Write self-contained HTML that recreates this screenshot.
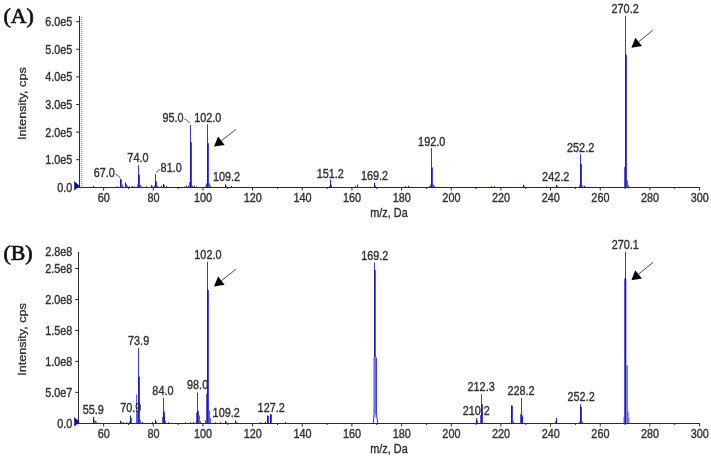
<!DOCTYPE html>
<html><head><meta charset="utf-8"><title>MS/MS spectra</title>
<style>
html,body{margin:0;padding:0;background:#fff;}
svg{display:block;}
.t,.r{font-family:"Liberation Sans",Arial,sans-serif;font-size:12.0px;fill:#303030;stroke:#303030;stroke-width:0.36px;}
.r{font-size:12.6px;}
.p{font-family:"Liberation Serif","Times New Roman",serif;font-weight:normal;font-size:21.5px;fill:#111;stroke:#111;stroke-width:0.7px;}
</style></head><body>
<svg width="711" height="459" viewBox="0 0 711 459">
<rect width="711" height="459" fill="#fff"/>
<g id="panelA">
<rect x="79.00" y="16.00" width="1.00" height="172.00" fill="#2b2b2b"/><line x1="81.8" y1="17" x2="81.8" y2="187.0" stroke="#777" stroke-width="1" stroke-dasharray="1,1"/><rect x="76.00" y="187.00" width="624.05" height="1.00" fill="#2b2b2b"/><rect x="103.13" y="187.00" width="1.00" height="3.50" fill="#2b2b2b"/><text transform="translate(103.8,202.0) scale(0.905,1)" text-anchor="middle" class="t">60</text><rect x="127.96" y="187.00" width="1.00" height="2.00" fill="#2b2b2b"/><rect x="152.79" y="187.00" width="1.00" height="3.50" fill="#2b2b2b"/><text transform="translate(153.5,202.0) scale(0.905,1)" text-anchor="middle" class="t">80</text><rect x="177.62" y="187.00" width="1.00" height="2.00" fill="#2b2b2b"/><rect x="202.45" y="187.00" width="1.00" height="3.50" fill="#2b2b2b"/><text transform="translate(203.1,202.0) scale(0.905,1)" text-anchor="middle" class="t">100</text><rect x="227.28" y="187.00" width="1.00" height="2.00" fill="#2b2b2b"/><rect x="252.11" y="187.00" width="1.00" height="3.50" fill="#2b2b2b"/><text transform="translate(252.8,202.0) scale(0.905,1)" text-anchor="middle" class="t">120</text><rect x="276.94" y="187.00" width="1.00" height="2.00" fill="#2b2b2b"/><rect x="301.77" y="187.00" width="1.00" height="3.50" fill="#2b2b2b"/><text transform="translate(302.5,202.0) scale(0.905,1)" text-anchor="middle" class="t">140</text><rect x="326.60" y="187.00" width="1.00" height="2.00" fill="#2b2b2b"/><rect x="351.43" y="187.00" width="1.00" height="3.50" fill="#2b2b2b"/><text transform="translate(352.1,202.0) scale(0.905,1)" text-anchor="middle" class="t">160</text><rect x="376.26" y="187.00" width="1.00" height="2.00" fill="#2b2b2b"/><rect x="401.09" y="187.00" width="1.00" height="3.50" fill="#2b2b2b"/><text transform="translate(401.8,202.0) scale(0.905,1)" text-anchor="middle" class="t">180</text><rect x="425.92" y="187.00" width="1.00" height="2.00" fill="#2b2b2b"/><rect x="450.75" y="187.00" width="1.00" height="3.50" fill="#2b2b2b"/><text transform="translate(451.4,202.0) scale(0.905,1)" text-anchor="middle" class="t">200</text><rect x="475.58" y="187.00" width="1.00" height="2.00" fill="#2b2b2b"/><rect x="500.41" y="187.00" width="1.00" height="3.50" fill="#2b2b2b"/><text transform="translate(501.1,202.0) scale(0.905,1)" text-anchor="middle" class="t">220</text><rect x="525.24" y="187.00" width="1.00" height="2.00" fill="#2b2b2b"/><rect x="550.07" y="187.00" width="1.00" height="3.50" fill="#2b2b2b"/><text transform="translate(550.8,202.0) scale(0.905,1)" text-anchor="middle" class="t">240</text><rect x="574.90" y="187.00" width="1.00" height="2.00" fill="#2b2b2b"/><rect x="599.73" y="187.00" width="1.00" height="3.50" fill="#2b2b2b"/><text transform="translate(600.4,202.0) scale(0.905,1)" text-anchor="middle" class="t">260</text><rect x="624.56" y="187.00" width="1.00" height="2.00" fill="#2b2b2b"/><rect x="649.39" y="187.00" width="1.00" height="3.50" fill="#2b2b2b"/><text transform="translate(650.1,202.0) scale(0.905,1)" text-anchor="middle" class="t">280</text><rect x="674.22" y="187.00" width="1.00" height="2.00" fill="#2b2b2b"/><rect x="699.05" y="187.00" width="1.00" height="3.50" fill="#2b2b2b"/><text transform="translate(699.8,202.0) scale(0.905,1)" text-anchor="middle" class="t">300</text><rect x="76.20" y="186.80" width="3.30" height="1.00" fill="#2b2b2b"/><text transform="translate(72.4,191.7) scale(0.905,1)" text-anchor="end" class="t">0.0</text><rect x="76.20" y="159.20" width="3.30" height="1.00" fill="#2b2b2b"/><text transform="translate(72.4,164.1) scale(0.905,1)" text-anchor="end" class="t">1.0e5</text><rect x="76.20" y="131.60" width="3.30" height="1.00" fill="#2b2b2b"/><text transform="translate(72.4,136.5) scale(0.905,1)" text-anchor="end" class="t">2.0e5</text><rect x="76.20" y="104.00" width="3.30" height="1.00" fill="#2b2b2b"/><text transform="translate(72.4,108.9) scale(0.905,1)" text-anchor="end" class="t">3.0e5</text><rect x="76.20" y="76.40" width="3.30" height="1.00" fill="#2b2b2b"/><text transform="translate(72.4,81.3) scale(0.905,1)" text-anchor="end" class="t">4.0e5</text><rect x="76.20" y="48.80" width="3.30" height="1.00" fill="#2b2b2b"/><text transform="translate(72.4,53.7) scale(0.905,1)" text-anchor="end" class="t">5.0e5</text><rect x="76.20" y="21.20" width="3.30" height="1.00" fill="#2b2b2b"/><text transform="translate(72.4,26.1) scale(0.905,1)" text-anchor="end" class="t">6.0e5</text><polygon points="74.2,181.0 79.6,186.0 74.2,190.6" fill="#0a0ab8"/><text transform="translate(25.8,103.6) rotate(-90) scale(1,0.86)" text-anchor="middle" class="r">Intensity, cps</text><text transform="translate(389.0,216.6) scale(0.905,1)" text-anchor="middle" class="t">m/z, Da</text>
<rect x="93.00" y="185.78" width="1.00" height="1.22" fill="#1515d4"/>
<rect x="117.00" y="186.47" width="1.00" height="0.53" fill="#1515d4"/>
<rect x="120.00" y="179.02" width="1.00" height="7.98" fill="#1515d4"/><rect x="121.00" y="179.40" width="1.00" height="7.60" fill="#1515d4" opacity="0.7"/><rect x="122.00" y="184.50" width="1.00" height="2.50" fill="#1515d4" opacity="0.7"/>
<rect x="125.00" y="182.33" width="1.00" height="4.67" fill="#1515d4"/><rect x="126.00" y="184.00" width="1.00" height="3.00" fill="#1515d4" opacity="0.7"/><rect x="127.00" y="185.50" width="1.00" height="1.50" fill="#1515d4" opacity="0.7"/>
<rect x="129.00" y="186.20" width="1.00" height="0.80" fill="#1515d4"/>
<rect x="132.00" y="185.92" width="1.00" height="1.08" fill="#1515d4"/>
<rect x="134.00" y="186.47" width="1.00" height="0.53" fill="#1515d4"/>
<rect x="138.00" y="165.36" width="1.00" height="21.64" fill="#3838dc"/><rect x="138.00" y="174.66" width="1.00" height="12.34" fill="#1515d4"/><rect x="139.00" y="174.66" width="1.00" height="12.34" fill="#1515d4" opacity="0.8"/><rect x="137.00" y="184.50" width="1.00" height="2.50" fill="#1515d4" opacity="0.7"/><rect x="140.00" y="185.00" width="1.00" height="2.00" fill="#1515d4" opacity="0.7"/>
<rect x="141.00" y="186.47" width="1.00" height="0.53" fill="#1515d4"/>
<rect x="146.00" y="186.47" width="1.00" height="0.53" fill="#1515d4"/>
<rect x="151.00" y="185.09" width="1.00" height="1.91" fill="#1515d4"/><rect x="152.00" y="185.80" width="1.00" height="1.20" fill="#1515d4" opacity="0.7"/>
<rect x="155.00" y="174.05" width="1.00" height="12.95" fill="#3838dc"/><rect x="155.00" y="181.17" width="1.00" height="5.83" fill="#1515d4"/><rect x="156.00" y="181.17" width="1.00" height="5.83" fill="#1515d4" opacity="0.8"/><rect x="154.00" y="185.50" width="1.00" height="1.50" fill="#1515d4" opacity="0.7"/><rect x="157.00" y="185.50" width="1.00" height="1.50" fill="#1515d4" opacity="0.7"/>
<rect x="161.00" y="185.64" width="1.00" height="1.36" fill="#1515d4"/>
<rect x="163.00" y="183.99" width="1.00" height="3.01" fill="#1515d4"/><rect x="164.00" y="185.00" width="1.00" height="2.00" fill="#1515d4" opacity="0.7"/>
<rect x="166.00" y="186.20" width="1.00" height="0.80" fill="#1515d4"/>
<rect x="184.00" y="186.47" width="1.00" height="0.53" fill="#1515d4"/>
<rect x="186.00" y="185.64" width="1.00" height="1.36" fill="#1515d4"/>
<rect x="190.00" y="124.92" width="1.00" height="62.08" fill="#3838dc"/><rect x="190.00" y="142.31" width="1.00" height="44.69" fill="#1515d4"/><rect x="191.00" y="142.31" width="1.00" height="44.69" fill="#1515d4" opacity="0.8"/><rect x="189.00" y="182.00" width="1.00" height="5.00" fill="#1515d4" opacity="0.7"/><rect x="188.00" y="185.50" width="1.00" height="1.50" fill="#1515d4" opacity="0.7"/><rect x="192.00" y="185.50" width="1.00" height="1.50" fill="#1515d4" opacity="0.7"/>
<rect x="194.00" y="185.92" width="1.00" height="1.08" fill="#1515d4"/>
<rect x="196.00" y="186.47" width="1.00" height="0.53" fill="#1515d4"/>
<rect x="207.00" y="124.37" width="1.00" height="62.63" fill="#3838dc"/><rect x="207.00" y="143.16" width="1.00" height="43.84" fill="#1515d4"/><rect x="208.00" y="143.16" width="1.00" height="43.84" fill="#1515d4" opacity="0.8"/><rect x="206.00" y="183.50" width="1.00" height="3.50" fill="#1515d4" opacity="0.7"/><rect x="205.00" y="185.50" width="1.00" height="1.50" fill="#1515d4" opacity="0.7"/><rect x="209.00" y="183.50" width="1.00" height="3.50" fill="#1515d4" opacity="0.7"/><rect x="210.00" y="185.50" width="1.00" height="1.50" fill="#1515d4" opacity="0.7"/>
<rect x="225.00" y="184.26" width="1.00" height="2.74" fill="#1515d4"/><rect x="226.00" y="185.80" width="1.00" height="1.20" fill="#1515d4" opacity="0.7"/>
<rect x="231.00" y="185.92" width="1.00" height="1.08" fill="#1515d4"/>
<rect x="330.00" y="179.57" width="1.00" height="7.43" fill="#1515d4"/><rect x="331.00" y="185.00" width="1.00" height="2.00" fill="#1515d4" opacity="0.7"/><rect x="329.00" y="185.80" width="1.00" height="1.20" fill="#1515d4" opacity="0.7"/>
<rect x="355.00" y="186.20" width="1.00" height="0.80" fill="#1515d4"/>
<rect x="357.00" y="184.54" width="1.00" height="2.46" fill="#1515d4"/>
<rect x="374.00" y="182.88" width="1.00" height="4.12" fill="#1515d4"/><rect x="375.00" y="185.50" width="1.00" height="1.50" fill="#1515d4" opacity="0.7"/>
<rect x="405.00" y="186.20" width="1.00" height="0.80" fill="#1515d4"/>
<rect x="408.00" y="185.92" width="1.00" height="1.08" fill="#1515d4"/>
<rect x="431.00" y="147.97" width="1.00" height="39.03" fill="#3838dc"/><rect x="431.00" y="167.49" width="1.00" height="19.51" fill="#1515d4"/><rect x="432.00" y="167.49" width="1.00" height="19.51" fill="#1515d4" opacity="0.8"/><rect x="430.00" y="184.50" width="1.00" height="2.50" fill="#1515d4" opacity="0.7"/><rect x="429.00" y="185.80" width="1.00" height="1.20" fill="#1515d4" opacity="0.7"/><rect x="433.00" y="184.50" width="1.00" height="2.50" fill="#1515d4" opacity="0.7"/><rect x="434.00" y="185.80" width="1.00" height="1.20" fill="#1515d4" opacity="0.7"/>
<rect x="491.00" y="186.20" width="1.00" height="0.80" fill="#1515d4"/>
<rect x="494.00" y="186.20" width="1.00" height="0.80" fill="#1515d4"/>
<rect x="523.00" y="184.82" width="1.00" height="2.18" fill="#1515d4"/><rect x="524.00" y="185.80" width="1.00" height="1.20" fill="#1515d4" opacity="0.7"/>
<rect x="546.00" y="186.47" width="1.00" height="0.53" fill="#1515d4"/>
<rect x="556.00" y="184.82" width="1.00" height="2.18" fill="#1515d4"/><rect x="557.00" y="186.00" width="1.00" height="1.00" fill="#1515d4" opacity="0.7"/>
<rect x="580.00" y="154.18" width="1.00" height="32.82" fill="#3838dc"/><rect x="580.00" y="164.03" width="1.00" height="22.97" fill="#1515d4"/><rect x="581.00" y="164.03" width="1.00" height="22.97" fill="#1515d4" opacity="0.8"/><rect x="579.00" y="185.20" width="1.00" height="1.80" fill="#1515d4" opacity="0.7"/><rect x="582.00" y="185.20" width="1.00" height="1.80" fill="#1515d4" opacity="0.7"/>
<rect x="584.00" y="185.92" width="1.00" height="1.08" fill="#1515d4"/>
<rect x="625.00" y="15.77" width="1.00" height="171.23" fill="#3838dc"/><rect x="625.00" y="54.81" width="1.00" height="132.19" fill="#1515d4"/><rect x="626.00" y="54.81" width="1.00" height="132.19" fill="#1515d4" opacity="0.8"/><rect x="624.00" y="167.00" width="1.00" height="20.00" fill="#1515d4" opacity="0.7"/><rect x="627.00" y="180.50" width="1.00" height="6.50" fill="#1515d4" opacity="0.7"/><rect x="628.00" y="185.00" width="1.00" height="2.00" fill="#1515d4" opacity="0.7"/>
<text transform="translate(114.8,177.2) scale(0.905,1)" text-anchor="end" class="t">67.0</text>
<text transform="translate(137.9,162.3) scale(0.905,1)" text-anchor="middle" class="t">74.0</text>
<text transform="translate(160.6,171.8) scale(0.905,1)" text-anchor="start" class="t">81.0</text>
<text transform="translate(183.6,121.8) scale(0.905,1)" text-anchor="end" class="t">95.0</text>
<text transform="translate(207.8,121.8) scale(0.905,1)" text-anchor="middle" class="t">102.0</text>
<text transform="translate(226.5,180.7) scale(0.905,1)" text-anchor="middle" class="t">109.2</text>
<text transform="translate(330.3,177.8) scale(0.905,1)" text-anchor="middle" class="t">151.2</text>
<text transform="translate(374.5,179.8) scale(0.905,1)" text-anchor="middle" class="t">169.2</text>
<text transform="translate(431.7,146.2) scale(0.905,1)" text-anchor="middle" class="t">192.0</text>
<text transform="translate(555.7,181.0) scale(0.905,1)" text-anchor="middle" class="t">242.2</text>
<text transform="translate(580.6,152.3) scale(0.905,1)" text-anchor="middle" class="t">252.2</text>
<text transform="translate(625.1,13.1) scale(0.905,1)" text-anchor="middle" class="t">270.2</text>
<polyline points="115.5,174.2 117.7,175.2 120.4,178.2" fill="none" stroke="#444" stroke-width="0.9"/>
<polyline points="160.0,169.5 158.0,170.5 156.2,172.8" fill="none" stroke="#444" stroke-width="0.9"/>
<polyline points="184.4,119.2 186.7,120.0 189.6,123.2" fill="none" stroke="#444" stroke-width="0.9"/>
<line x1="236.0" y1="129.4" x2="221.4" y2="140.7" stroke="#2a2a2a" stroke-width="0.85"/><polygon points="214.0,146.4 218.1,136.5 224.6,144.9" fill="#000"/>
<line x1="652.8" y1="30.3" x2="638.6" y2="41.8" stroke="#2a2a2a" stroke-width="0.85"/><polygon points="631.4,47.7 635.3,37.7 642.0,45.9" fill="#000"/>
</g>
<g id="panelB">
<rect x="78.00" y="252.00" width="1.00" height="172.00" fill="#2b2b2b"/><rect x="75.00" y="423.00" width="625.05" height="1.00" fill="#2b2b2b"/><rect x="103.13" y="423.00" width="1.00" height="3.50" fill="#2b2b2b"/><text transform="translate(103.8,438.0) scale(0.905,1)" text-anchor="middle" class="t">60</text><rect x="127.96" y="423.00" width="1.00" height="2.00" fill="#2b2b2b"/><rect x="152.79" y="423.00" width="1.00" height="3.50" fill="#2b2b2b"/><text transform="translate(153.5,438.0) scale(0.905,1)" text-anchor="middle" class="t">80</text><rect x="177.62" y="423.00" width="1.00" height="2.00" fill="#2b2b2b"/><rect x="202.45" y="423.00" width="1.00" height="3.50" fill="#2b2b2b"/><text transform="translate(203.1,438.0) scale(0.905,1)" text-anchor="middle" class="t">100</text><rect x="227.28" y="423.00" width="1.00" height="2.00" fill="#2b2b2b"/><rect x="252.11" y="423.00" width="1.00" height="3.50" fill="#2b2b2b"/><text transform="translate(252.8,438.0) scale(0.905,1)" text-anchor="middle" class="t">120</text><rect x="276.94" y="423.00" width="1.00" height="2.00" fill="#2b2b2b"/><rect x="301.77" y="423.00" width="1.00" height="3.50" fill="#2b2b2b"/><text transform="translate(302.5,438.0) scale(0.905,1)" text-anchor="middle" class="t">140</text><rect x="326.60" y="423.00" width="1.00" height="2.00" fill="#2b2b2b"/><rect x="351.43" y="423.00" width="1.00" height="3.50" fill="#2b2b2b"/><text transform="translate(352.1,438.0) scale(0.905,1)" text-anchor="middle" class="t">160</text><rect x="376.26" y="423.00" width="1.00" height="2.00" fill="#2b2b2b"/><rect x="401.09" y="423.00" width="1.00" height="3.50" fill="#2b2b2b"/><text transform="translate(401.8,438.0) scale(0.905,1)" text-anchor="middle" class="t">180</text><rect x="425.92" y="423.00" width="1.00" height="2.00" fill="#2b2b2b"/><rect x="450.75" y="423.00" width="1.00" height="3.50" fill="#2b2b2b"/><text transform="translate(451.4,438.0) scale(0.905,1)" text-anchor="middle" class="t">200</text><rect x="475.58" y="423.00" width="1.00" height="2.00" fill="#2b2b2b"/><rect x="500.41" y="423.00" width="1.00" height="3.50" fill="#2b2b2b"/><text transform="translate(501.1,438.0) scale(0.905,1)" text-anchor="middle" class="t">220</text><rect x="525.24" y="423.00" width="1.00" height="2.00" fill="#2b2b2b"/><rect x="550.07" y="423.00" width="1.00" height="3.50" fill="#2b2b2b"/><text transform="translate(550.8,438.0) scale(0.905,1)" text-anchor="middle" class="t">240</text><rect x="574.90" y="423.00" width="1.00" height="2.00" fill="#2b2b2b"/><rect x="599.73" y="423.00" width="1.00" height="3.50" fill="#2b2b2b"/><text transform="translate(600.4,438.0) scale(0.905,1)" text-anchor="middle" class="t">260</text><rect x="624.56" y="423.00" width="1.00" height="2.00" fill="#2b2b2b"/><rect x="649.39" y="423.00" width="1.00" height="3.50" fill="#2b2b2b"/><text transform="translate(650.1,438.0) scale(0.905,1)" text-anchor="middle" class="t">280</text><rect x="674.22" y="423.00" width="1.00" height="2.00" fill="#2b2b2b"/><rect x="699.05" y="423.00" width="1.00" height="3.50" fill="#2b2b2b"/><text transform="translate(699.8,438.0) scale(0.905,1)" text-anchor="middle" class="t">300</text><rect x="75.20" y="422.80" width="3.30" height="1.00" fill="#2b2b2b"/><text transform="translate(72.4,427.7) scale(0.905,1)" text-anchor="end" class="t">0.0</text><rect x="75.20" y="391.85" width="3.30" height="1.00" fill="#2b2b2b"/><text transform="translate(72.4,396.8) scale(0.905,1)" text-anchor="end" class="t">5.0e7</text><rect x="75.20" y="360.90" width="3.30" height="1.00" fill="#2b2b2b"/><text transform="translate(72.4,365.8) scale(0.905,1)" text-anchor="end" class="t">1.0e8</text><rect x="75.20" y="329.95" width="3.30" height="1.00" fill="#2b2b2b"/><text transform="translate(72.4,334.9) scale(0.905,1)" text-anchor="end" class="t">1.5e8</text><rect x="75.20" y="299.00" width="3.30" height="1.00" fill="#2b2b2b"/><text transform="translate(72.4,303.9) scale(0.905,1)" text-anchor="end" class="t">2.0e8</text><rect x="75.20" y="268.05" width="3.30" height="1.00" fill="#2b2b2b"/><text transform="translate(72.4,272.9) scale(0.905,1)" text-anchor="end" class="t">2.5e8</text><text transform="translate(72.4,256.3) scale(0.905,1)" text-anchor="end" class="t">2.8e8</text><polygon points="74.2,417.0 79.6,422.0 74.2,426.6" fill="#0a0ab8"/><text transform="translate(25.8,339.5) rotate(-90) scale(1,0.86)" text-anchor="middle" class="r">Intensity, cps</text><text transform="translate(389.0,452.6) scale(0.905,1)" text-anchor="middle" class="t">m/z, Da</text>
<rect x="93.00" y="416.90" width="1.00" height="6.10" fill="#1515d4"/><rect x="94.00" y="419.80" width="1.00" height="3.20" fill="#1515d4" opacity="0.7"/><rect x="95.00" y="421.00" width="1.00" height="2.00" fill="#1515d4" opacity="0.7"/><rect x="96.00" y="421.80" width="1.00" height="1.20" fill="#1515d4" opacity="0.7"/>
<rect x="120.00" y="420.70" width="1.00" height="2.30" fill="#1515d4"/><rect x="121.00" y="421.80" width="1.00" height="1.20" fill="#1515d4" opacity="0.7"/>
<rect x="123.00" y="422.10" width="1.00" height="0.90" fill="#1515d4"/>
<rect x="126.00" y="422.30" width="1.00" height="0.70" fill="#1515d4"/>
<rect x="130.00" y="415.50" width="1.00" height="7.50" fill="#1515d4"/><rect x="131.00" y="418.00" width="1.00" height="5.00" fill="#1515d4" opacity="0.7"/><rect x="129.00" y="421.50" width="1.00" height="1.50" fill="#1515d4" opacity="0.7"/>
<rect x="138.00" y="348.09" width="1.00" height="74.91" fill="#3838dc"/><rect x="138.00" y="376.56" width="1.00" height="46.44" fill="#1515d4"/><rect x="139.00" y="376.56" width="1.00" height="46.44" fill="#1515d4" opacity="0.8"/><rect x="136.00" y="394.50" width="1.00" height="28.50" fill="#1515d4" opacity="0.7"/><rect x="137.00" y="411.00" width="1.00" height="12.00" fill="#1515d4" opacity="0.7"/><rect x="140.00" y="420.00" width="1.00" height="3.00" fill="#1515d4" opacity="0.7"/>
<rect x="142.00" y="422.10" width="1.00" height="0.90" fill="#1515d4"/>
<rect x="152.00" y="422.10" width="1.00" height="0.90" fill="#1515d4"/>
<rect x="155.00" y="419.70" width="1.00" height="3.30" fill="#1515d4"/><rect x="156.00" y="421.50" width="1.00" height="1.50" fill="#1515d4" opacity="0.7"/>
<rect x="163.00" y="397.70" width="1.00" height="25.30" fill="#3838dc"/><rect x="163.00" y="411.62" width="1.00" height="11.38" fill="#1515d4"/><rect x="164.00" y="411.62" width="1.00" height="11.38" fill="#1515d4" opacity="0.8"/><rect x="162.00" y="417.00" width="1.00" height="6.00" fill="#1515d4" opacity="0.7"/><rect x="164.00" y="415.50" width="1.00" height="7.50" fill="#1515d4" opacity="0.7"/><rect x="165.00" y="420.80" width="1.00" height="2.20" fill="#1515d4" opacity="0.7"/>
<rect x="168.00" y="422.30" width="1.00" height="0.70" fill="#1515d4"/>
<rect x="185.00" y="422.30" width="1.00" height="0.70" fill="#1515d4"/>
<rect x="190.00" y="422.10" width="1.00" height="0.90" fill="#1515d4"/>
<rect x="193.00" y="422.10" width="1.00" height="0.90" fill="#1515d4"/>
<rect x="197.00" y="392.50" width="1.00" height="30.50" fill="#3838dc"/><rect x="197.00" y="410.80" width="1.00" height="12.20" fill="#1515d4"/><rect x="198.00" y="410.80" width="1.00" height="12.20" fill="#1515d4" opacity="0.8"/><rect x="196.00" y="412.50" width="1.00" height="10.50" fill="#1515d4" opacity="0.7"/><rect x="196.00" y="421.00" width="1.00" height="2.00" fill="#1515d4" opacity="0.7"/><rect x="199.00" y="415.50" width="1.00" height="7.50" fill="#1515d4" opacity="0.7"/><rect x="200.00" y="421.00" width="1.00" height="2.00" fill="#1515d4" opacity="0.7"/>
<rect x="207.00" y="261.74" width="1.00" height="161.26" fill="#3838dc"/><rect x="207.00" y="290.12" width="1.00" height="132.88" fill="#1515d4"/><rect x="208.00" y="290.12" width="1.00" height="132.88" fill="#1515d4" opacity="0.8"/><rect x="206.00" y="393.50" width="1.00" height="29.50" fill="#1515d4" opacity="0.7"/><rect x="205.00" y="420.00" width="1.00" height="3.00" fill="#1515d4" opacity="0.7"/><rect x="209.00" y="410.50" width="1.00" height="12.50" fill="#1515d4" opacity="0.7"/><rect x="210.00" y="418.00" width="1.00" height="5.00" fill="#1515d4" opacity="0.7"/>
<rect x="215.00" y="422.30" width="1.00" height="0.70" fill="#1515d4"/>
<rect x="220.00" y="422.30" width="1.00" height="0.70" fill="#1515d4"/>
<rect x="225.00" y="420.90" width="1.00" height="2.10" fill="#1515d4"/><rect x="226.00" y="422.00" width="1.00" height="1.00" fill="#1515d4" opacity="0.7"/>
<rect x="235.00" y="420.70" width="1.00" height="2.30" fill="#1515d4"/><rect x="236.00" y="422.00" width="1.00" height="1.00" fill="#1515d4" opacity="0.7"/>
<rect x="260.00" y="422.30" width="1.00" height="0.70" fill="#1515d4"/>
<rect x="265.00" y="421.70" width="1.00" height="1.30" fill="#1515d4"/>
<rect x="267.00" y="415.70" width="1.00" height="7.30" fill="#1515d4"/><rect x="267.00" y="415.77" width="1.00" height="7.23" fill="#1515d4"/><rect x="268.00" y="415.77" width="1.00" height="7.23" fill="#1515d4" opacity="0.8"/>
<rect x="270.00" y="414.30" width="1.00" height="8.70" fill="#1515d4"/><rect x="270.00" y="414.39" width="1.00" height="8.61" fill="#1515d4"/><rect x="271.00" y="414.39" width="1.00" height="8.61" fill="#1515d4" opacity="0.8"/>
<rect x="285.00" y="422.10" width="1.00" height="0.90" fill="#1515d4"/>
<rect x="476.00" y="418.30" width="1.00" height="4.70" fill="#1515d4"/><rect x="477.00" y="420.50" width="1.00" height="2.50" fill="#1515d4" opacity="0.7"/>
<rect x="481.00" y="394.30" width="1.00" height="28.70" fill="#3838dc"/><rect x="481.00" y="404.35" width="1.00" height="18.65" fill="#1515d4"/><rect x="482.00" y="404.35" width="1.00" height="18.65" fill="#1515d4" opacity="0.8"/><rect x="480.00" y="415.00" width="1.00" height="8.00" fill="#1515d4" opacity="0.7"/>
<rect x="511.00" y="405.50" width="1.00" height="17.50" fill="#3838dc"/><rect x="511.00" y="405.68" width="1.00" height="17.32" fill="#1515d4"/><rect x="512.00" y="405.68" width="1.00" height="17.32" fill="#1515d4" opacity="0.8"/><rect x="513.00" y="421.50" width="1.00" height="1.50" fill="#1515d4" opacity="0.7"/>
<rect x="521.00" y="397.80" width="1.00" height="25.20" fill="#3838dc"/><rect x="521.00" y="415.44" width="1.00" height="7.56" fill="#1515d4"/><rect x="522.00" y="415.44" width="1.00" height="7.56" fill="#1515d4" opacity="0.8"/><rect x="520.00" y="414.00" width="1.00" height="9.00" fill="#1515d4" opacity="0.7"/><rect x="522.00" y="417.00" width="1.00" height="6.00" fill="#1515d4" opacity="0.7"/>
<rect x="556.00" y="417.90" width="1.00" height="5.10" fill="#1515d4"/><rect x="555.00" y="421.00" width="1.00" height="2.00" fill="#1515d4" opacity="0.7"/>
<rect x="580.00" y="404.10" width="1.00" height="18.90" fill="#3838dc"/><rect x="580.00" y="406.94" width="1.00" height="16.06" fill="#1515d4"/><rect x="581.00" y="406.94" width="1.00" height="16.06" fill="#1515d4" opacity="0.8"/><rect x="579.00" y="421.50" width="1.00" height="1.50" fill="#1515d4" opacity="0.7"/><rect x="582.00" y="421.50" width="1.00" height="1.50" fill="#1515d4" opacity="0.7"/>
<rect x="374.00" y="262.50" width="1.00" height="10.00" fill="#3838dc"/>
<rect x="374.00" y="270.00" width="1.70" height="87.60" fill="#1515d4"/>
<rect x="373.60" y="357.60" width="0.90" height="56.90" fill="#1515d4"/>
<rect x="374.50" y="357.60" width="1.70" height="56.90" fill="#6a6aee"/>
<rect x="376.20" y="357.60" width="0.80" height="56.90" fill="#1515d4"/>
<path d="M374.0,414.5 L373.3,423 M376.6,414.5 L377.7,423" stroke="#1515d4" stroke-width="0.9" fill="none"/>
<rect x="374.50" y="414.50" width="1.70" height="3.00" fill="#6a6aee" opacity="0.6"/>
<rect x="625.00" y="251.80" width="1.00" height="30.00" fill="#3838dc"/>
<rect x="624.30" y="278.50" width="2.00" height="144.50" fill="#1515d4"/>
<rect x="626.30" y="365.40" width="0.80" height="57.60" fill="#6a6aee"/>
<rect x="627.00" y="365.40" width="0.70" height="57.60" fill="#1515d4" opacity="0.8"/>
<rect x="627.70" y="411.60" width="0.90" height="11.40" fill="#1515d4" opacity="0.7"/>
<rect x="623.40" y="416.50" width="0.90" height="6.50" fill="#1515d4" opacity="0.6"/>
<rect x="628.60" y="418.00" width="0.90" height="5.00" fill="#1515d4" opacity="0.6"/>
<text transform="translate(93.3,413.7) scale(0.905,1)" text-anchor="middle" class="t">55.9</text>
<text transform="translate(130.8,412.4) scale(0.905,1)" text-anchor="middle" class="t">70.9</text>
<text transform="translate(138.6,344.8) scale(0.905,1)" text-anchor="middle" class="t">73.9</text>
<text transform="translate(162.9,395.0) scale(0.905,1)" text-anchor="middle" class="t">84.0</text>
<text transform="translate(197.6,389.4) scale(0.905,1)" text-anchor="middle" class="t">98.0</text>
<text transform="translate(207.9,258.7) scale(0.905,1)" text-anchor="middle" class="t">102.0</text>
<text transform="translate(226.2,417.4) scale(0.905,1)" text-anchor="middle" class="t">109.2</text>
<text transform="translate(271.2,411.6) scale(0.905,1)" text-anchor="middle" class="t">127.2</text>
<text transform="translate(374.8,259.6) scale(0.905,1)" text-anchor="middle" class="t">169.2</text>
<text transform="translate(476.3,415.0) scale(0.905,1)" text-anchor="middle" class="t">210.2</text>
<text transform="translate(481.1,391.2) scale(0.905,1)" text-anchor="middle" class="t">212.3</text>
<text transform="translate(521.0,394.6) scale(0.905,1)" text-anchor="middle" class="t">228.2</text>
<text transform="translate(581.1,401.0) scale(0.905,1)" text-anchor="middle" class="t">252.2</text>
<text transform="translate(625.3,249.2) scale(0.905,1)" text-anchor="middle" class="t">270.1</text>
<line x1="236.0" y1="269.2" x2="221.3" y2="280.7" stroke="#2a2a2a" stroke-width="0.85"/><polygon points="214.0,286.4 218.1,276.5 224.6,284.8" fill="#000"/>
<line x1="653.0" y1="262.3" x2="638.5" y2="274.3" stroke="#2a2a2a" stroke-width="0.85"/><polygon points="631.4,280.3 635.2,270.3 641.9,278.4" fill="#000"/>
</g>
<text x="3.4" y="22.7" class="p" textLength="30.4" lengthAdjust="spacingAndGlyphs">(A)</text>
<text x="3.4" y="259.5" class="p" textLength="29.2" lengthAdjust="spacingAndGlyphs">(B)</text>
</svg>
</body></html>
